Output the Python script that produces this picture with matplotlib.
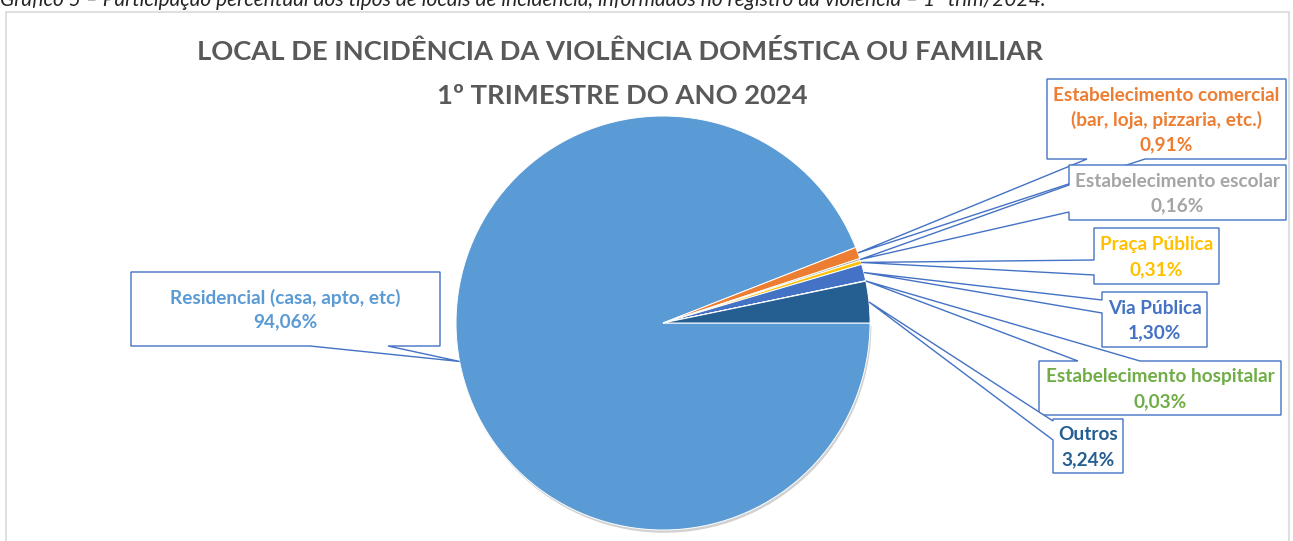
import numpy as np
import matplotlib
matplotlib.use("Agg")
import matplotlib.pyplot as plt
from matplotlib.patches import Polygon, Rectangle
import matplotlib.patheffects as pe

# ---------------- data ----------------
categories = ["Residencial (casa, apto, etc)",
              "Estabelecimento comercial\n(bar, loja, pizzaria, etc.)",
              "Estabelecimento escolar",
              "Praça Pública",
              "Via Pública",
              "Estabelecimento hospitalar",
              "Outros"]
values = [94.06, 0.91, 0.16, 0.31, 1.30, 0.03, 3.24]
colors = ["#5B9BD5", "#ED7D31", "#A5A5A5", "#FFC000", "#4472C4", "#70AD47", "#255E91"]
title_lines = ["LOCAL DE INCIDÊNCIA DA VIOLÊNCIA DOMÉSTICA OU FAMILIAR",
               "1º TRIMESTRE DO ANO 2024"]
caption = ("Gráfico 5 – Participação percentual dos tipos de locais de incidência, "
           "informados no registro da violência – 1º trim/2024.")

# ---------------- layout ----------------
W, H = 1293, 541
def Y(p):
    return H - p

# label boxes in pixel coords: (x0, y0, x1, y1), side of pointer, base points
boxes = [
    ((131, 272, 440, 346), "bottom", (310, 388)),
    ((1047, 79, 1286, 159), "bottom", (1087, 1145)),
    ((1069, 165, 1286, 220), "left", (185, 212)),
    ((1094, 228, 1219, 284), "left", (260, 275)),
    ((1102, 292, 1207, 347), "left", (300, 313)),
    ((1039, 361, 1281, 415), "top", (1078, 1140)),
    ((1053, 419, 1123, 473), "left", (421, 440)),
]

fig = plt.figure(figsize=(W / 100, H / 100), dpi=100)
fig.patch.set_facecolor("white")
ax = fig.add_axes([0, 0, 1, 1])
ax.set_xlim(0, W)
ax.set_ylim(0, H)
ax.set_aspect("equal")
ax.axis("off")

FONT = ["Lato", "DejaVu Sans"]
renderer = fig.canvas.get_renderer()

def fit(t, target_w):
    bb = t.get_window_extent(renderer)
    t.set_fontsize(t.get_fontsize() * target_w / bb.width)

# chart frame
ax.add_patch(Rectangle((6, Y(560)), 1283, 548, fill=False, edgecolor="#D9D9D9",
                       linewidth=1.2, zorder=0))

# caption (partially cut at the top, as in the source)
cap = ax.text(0, Y(6.5), caption, ha="left", va="baseline", fontsize=12,
              style="italic", family=FONT, color="#262626")
fit(cap, 1040)

# title
t1 = ax.text(620, Y(52), title_lines[0], ha="center", va="center", fontsize=20,
             fontweight="bold", family=FONT, color="#595959")
fit(t1, 845)
t2 = ax.text(622, Y(96), title_lines[1], ha="center", va="center",
             fontsize=t1.get_fontsize(), fontweight="bold", family=FONT, color="#595959")

# pie
cx, cy, R = 663, Y(323), 207
explode = [0.0] + [0.058] * (len(values) - 1)
wedges, _ = ax.pie(values, colors=colors, startangle=0, counterclock=False,
                   center=(cx, cy), radius=R, explode=explode, frame=True,
                   wedgeprops=dict(edgecolor="white", linewidth=0.7))
ax.set_xlim(0, W)
ax.set_ylim(0, H)
ax.axis("off")
wedges[0].set_path_effects([pe.SimplePatchShadow(offset=(1, -2), shadow_rgbFace="k",
                                                 alpha=0.18), pe.Normal()])

# label size fitted on the longest line
probe = ax.text(0, 0, "Estabelecimento comercial", fontsize=12, fontweight="bold",
                family=FONT)
fit(probe, 225)
lab_fs = probe.get_fontsize()
probe.remove()

def fmt(v):
    return f"{v:.2f}".replace(".", ",") + "%"

for i, (w, (box, side, base)) in enumerate(zip(wedges, boxes)):
    mid = np.deg2rad((w.theta1 + w.theta2) / 2)
    tip = (w.center[0] + w.r * np.cos(mid), w.center[1] + w.r * np.sin(mid))
    x0, y0, x1, y1 = box
    a, b = base
    if side == "bottom":
        pts = [(x0, y0), (x1, y0), (x1, y1), (b, y1), None, (a, y1), (x0, y1)]
    elif side == "left":
        pts = [(x0, y0), (x1, y0), (x1, y1), (x0, y1), (x0, b), None, (x0, a)]
    else:
        pts = [(x0, y0), (a, y0), None, (b, y0), (x1, y0), (x1, y1), (x0, y1)]
    poly = [tip if p is None else (p[0], Y(p[1])) for p in pts]
    ax.add_patch(Polygon(poly, closed=True, facecolor="white", edgecolor="#4472C4",
                         linewidth=1.0, zorder=3 + i))
    lines = categories[i].split("\n") + [fmt(values[i])]
    n = len(lines)
    ymid = (y0 + y1) / 2 + 1
    for k, ln in enumerate(lines):
        yy = ymid + (k - (n - 1) / 2) * 24.5
        ax.text((x0 + x1) / 2, Y(yy), ln, ha="center", va="center", fontsize=lab_fs,
                fontweight="bold", family=FONT, color=colors[i], zorder=20)

fig.savefig("out.png", dpi=100, facecolor="white")
